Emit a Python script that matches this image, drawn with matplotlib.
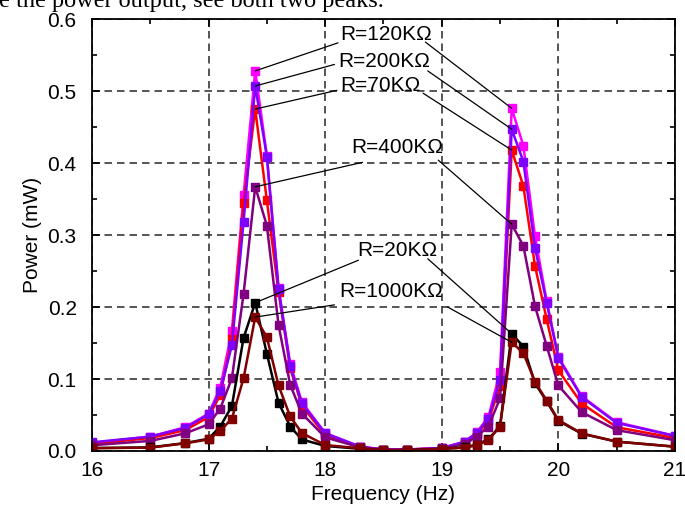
import numpy as np
import matplotlib.pyplot as plt
from matplotlib.ticker import MultipleLocator, FormatStrFormatter

plt.rcParams['font.family'] = ['Liberation Sans', 'DejaVu Sans']

freq = [16, 16.5, 16.8, 17.0, 17.1, 17.2, 17.3, 17.4, 17.5, 17.6, 17.7, 17.8, 18.0,
        18.3, 18.5, 18.7, 19.0, 19.2, 19.3, 19.4, 19.5, 19.6, 19.7, 19.8, 19.9,
        20.0, 20.2, 20.5, 21.0]

p_120k = [0.011, 0.020, 0.033, 0.052, 0.088, 0.167, 0.355, 0.528, 0.410, 0.227, 0.121, 0.068, 0.025,
          0.006, 0.002, 0.002, 0.004, 0.013, 0.026, 0.047, 0.110, 0.476, 0.424, 0.298, 0.208,
          0.131, 0.076, 0.040, 0.021]
p_70k = [0.010, 0.018, 0.029, 0.047, 0.078, 0.156, 0.344, 0.475, 0.348, 0.221, 0.115, 0.063, 0.022,
         0.005, 0.002, 0.002, 0.004, 0.012, 0.023, 0.042, 0.090, 0.418, 0.368, 0.257, 0.183,
         0.112, 0.066, 0.033, 0.018]
p_200k = [0.012, 0.020, 0.032, 0.051, 0.083, 0.147, 0.318, 0.507, 0.409, 0.225, 0.118, 0.066, 0.0245,
          0.006, 0.002, 0.002, 0.004, 0.013, 0.025, 0.045, 0.099, 0.447, 0.402, 0.282, 0.206,
          0.129, 0.075, 0.039, 0.021]
p_400k = [0.008, 0.014, 0.0245, 0.037, 0.059, 0.101, 0.218, 0.367, 0.313, 0.175, 0.092, 0.052, 0.019,
          0.005, 0.002, 0.002, 0.003, 0.010, 0.020, 0.034, 0.073, 0.315, 0.285, 0.201, 0.146,
          0.091, 0.054, 0.029, 0.015]
p_20k = [0.004, 0.005, 0.011, 0.017, 0.034, 0.0625, 0.157, 0.206, 0.135, 0.067, 0.034, 0.016, 0.007,
         0.003, 0.001, 0.001, 0.003, 0.005, 0.009, 0.016, 0.035, 0.163, 0.145, 0.094, 0.069,
         0.042, 0.024, 0.013, 0.006]
p_1000k = [0.004, 0.0046, 0.0107, 0.016, 0.028, 0.045, 0.101, 0.186, 0.158, 0.091, 0.048, 0.025, 0.0083,
           0.0037, 0.001, 0.001, 0.003, 0.0046, 0.008, 0.015, 0.034, 0.151, 0.136, 0.096, 0.070,
           0.043, 0.0245, 0.013, 0.006]

series = [
    ("R=120KΩ", p_120k, "#FF00FF"),
    ("R=70KΩ", p_70k, "#FF0000"),
    ("R=200KΩ", p_200k, "#8000FF"),
    ("R=400KΩ", p_400k, "#800080"),
    ("R=20KΩ", p_20k, "#000000"),
    ("R=1000KΩ", p_1000k, "#800000"),
]

fig = plt.figure(figsize=(6.85, 5.16), dpi=100)
ax = fig.add_axes([0.1343, 0.126, 0.851, 0.837])

# cropped caption line from the source page
fig.text(-0.002, 0.986, "e the power output, see both two peaks.",
         family='Liberation Serif', fontsize=17.5, va='baseline', ha='left')

for name, vals, col in series:
    ax.plot(freq, vals, color=col, lw=1.8, marker='s', ms=5.5, mec=col, mfc=col)

ax.set_xlim(16, 21)
ax.set_ylim(0, 0.6)
ax.xaxis.set_major_locator(MultipleLocator(1))
ax.xaxis.set_minor_locator(MultipleLocator(0.5))
ax.yaxis.set_major_locator(MultipleLocator(0.1))
ax.yaxis.set_minor_locator(MultipleLocator(0.05))
ax.yaxis.set_major_formatter(FormatStrFormatter('%.1f'))
ax.tick_params(which='both', direction='in', top=True, right=True, labelsize=15, width=1.2)
ax.tick_params(which='major', length=6)
ax.tick_params(which='minor', length=3.5)
ax.tick_params(axis='y', which='major', pad=11)
ax.tick_params(axis='x', which='major', pad=7)
ax.grid(True, which='major', linestyle=(0, (4.5, 3)), color='#383838', lw=1.2)
for sp in ax.spines.values():
    sp.set_linewidth(1.3)

ax.set_xlabel("Frequency (Hz)", fontsize=15, labelpad=4)
ax.set_ylabel("Power (mW)", fontsize=15, labelpad=4)

# labels: text centre, left-line start, right-line start
labels = {
    "R=120KΩ": ((18.52, 0.578), (18.11, 0.567), (18.86, 0.568)),
    "R=200KΩ": ((18.505, 0.541), (18.08, 0.537), (18.88, 0.528)),
    "R=70KΩ": ((18.47, 0.508), (18.10, 0.501), (18.84, 0.497)),
    "R=400KΩ": ((18.62, 0.421), (18.32, 0.401), (18.97, 0.404)),
    "R=20KΩ": ((18.62, 0.279), (18.285, 0.265), (18.88, 0.267)),
    "R=1000KΩ": ((18.566, 0.221), (18.08, 0.203), (19.05, 0.200)),
}
i_left = freq.index(17.4)
i_right = freq.index(19.6)
for name, vals, col in series:
    txt, ls, rs = labels[name]
    ax.text(txt[0], txt[1], name, fontsize=15, ha='center', va='center')
    ax.annotate('', xy=(freq[i_left], vals[i_left]), xytext=ls,
                arrowprops=dict(arrowstyle='-', lw=0.9, color='black', shrinkA=0, shrinkB=0))
    ax.annotate('', xy=(freq[i_right], vals[i_right]), xytext=rs,
                arrowprops=dict(arrowstyle='-', lw=0.9, color='black', shrinkA=0, shrinkB=0))

fig.savefig("out.png", dpi=100)
